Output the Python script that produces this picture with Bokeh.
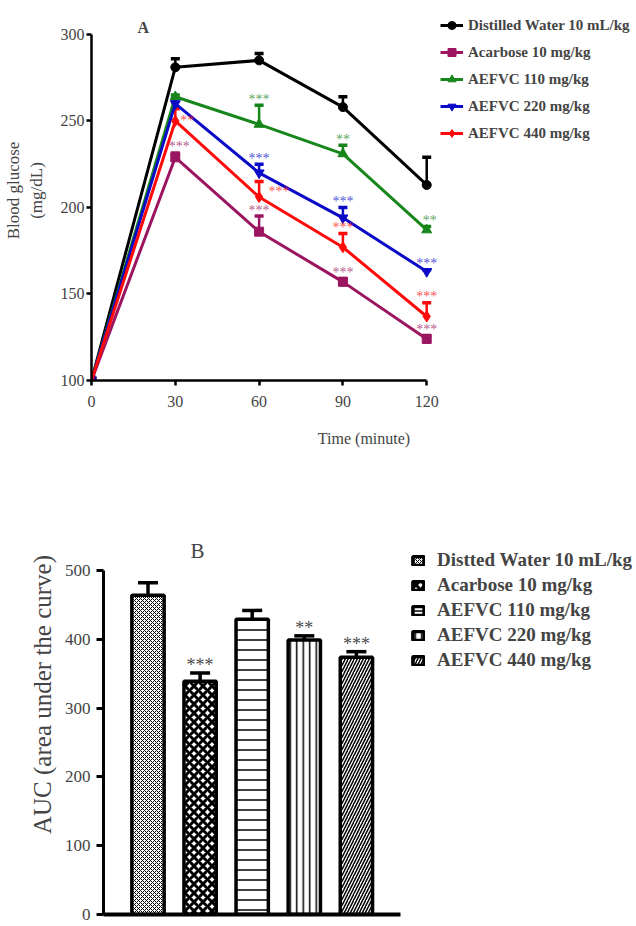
from bokeh.plotting import figure
from bokeh.layouts import column
from bokeh.models import (ColumnDataSource, Whisker, TeeHead, Legend, LegendItem,
                          LabelSet, Label, FixedTicker)
from bokeh.embed import file_html
from bokeh.resources import INLINE

# ---------------- data: panel A ----------------
times = [0, 30, 60, 90, 120]
series_keys = ["dw", "acarb", "a110", "a220", "a440"]
series_names = ["Distilled Water 10 mL/kg", "Acarbose 10 mg/kg", "AEFVC 110 mg/kg",
                "AEFVC 220 mg/kg", "AEFVC 440 mg/kg"]
dw_mean = [100, 281, 285, 258, 213]
dw_err = [0, 5, 4, 6, 16]
acarb_mean = [100, 229, 186, 157, 124]
acarb_err = [0, 2.5, 9, 2, 2]
a110_mean = [100, 264, 248, 231, 187]
a110_err = [0, 1, 11, 5, 2]
a220_mean = [100, 260, 220, 194, 163]
a220_err = [0, 3, 5, 6, 1]
a440_mean = [100, 250, 206, 177, 137]
a440_err = [0, 7, 9, 8, 8]
y_ticks_a = [100, 150, 200, 250, 300]

star_series = ["a110", "a110", "a110", "a220", "a220", "a220",
               "a440", "a440", "a440", "a440", "acarb", "acarb", "acarb", "acarb"]
star_times = [60, 90, 120, 60, 90, 120, 30, 60, 90, 120, 30, 60, 90, 120]
star_text = ["***", "**", "**", "***", "***", "***",
             "**", "***", "***", "***", "***", "***", "***", "***"]

# ---------------- data: panel B ----------------
groups = ["Distted Water 10 mL/kg", "Acarbose 10 mg/kg", "AEFVC 110 mg/kg",
          "AEFVC 220 mg/kg", "AEFVC 440 mg/kg"]
auc = [464, 339, 429, 399, 374]
auc_err = [18, 12, 13, 6, 8]
auc_stars = ["", "***", "", "**", "***"]
y_ticks_b = [0, 100, 200, 300, 400, 500]

# ---------------- styles ----------------
SERIF = "Liberation Serif"
colors = {"dw": "#000000", "acarb": "#9b1560", "a110": "#17861b", "a220": "#0a0ac8", "a440": "#ff0a0a"}
markers = {"dw": "circle", "acarb": "square", "a110": "triangle", "a220": "inverted_triangle", "a440": "diamond"}
msize = {"dw": 9, "acarb": 9, "a110": 10, "a220": 10, "a440": 11}
means = {"dw": dw_mean, "acarb": acarb_mean, "a110": a110_mean, "a220": a220_mean, "a440": a440_mean}
errs = {"dw": dw_err, "acarb": acarb_err, "a110": a110_err, "a220": a220_err, "a440": a440_err}
draw_order = ["dw", "acarb", "a110", "a220", "a440"]
star_dx = [0, 0, 3, 0, 0, 0, 12, 20, 0, 0, 4, 0, 0, 0]
star_dy = [6, 6, 6, 6, 6, 6, -12, -10, 6, 6, 6, 6, 6, 6]

# ================= Panel A =================
p1 = figure(width=636, height=474, x_range=(0, 195.1), y_range=(100, 319.6),
            output_backend="svg", toolbar_location=None, frame_align=False,
            min_border_left=88, min_border_right=0, min_border_top=0, min_border_bottom=94)
p1.outline_line_color = None
p1.grid.grid_line_color = None
for ax in (p1.xaxis[0], p1.yaxis[0]):
    ax.axis_line_width = 2.5
    ax.major_tick_line_width = 2.5
    ax.major_tick_out = 5
    ax.major_tick_in = 0
    ax.minor_tick_line_color = None
    ax.major_label_text_font = SERIF
    ax.major_label_text_font_size = "16px"
    ax.axis_label_text_font = SERIF
    ax.axis_label_text_font_style = "normal"
p1.xaxis.ticker = FixedTicker(ticks=times)
p1.yaxis.ticker = FixedTicker(ticks=y_ticks_a)
p1.xaxis.bounds = (0, 120)
p1.yaxis.bounds = (100, 300)
p1.xaxis.axis_label = "Time (minute)"
p1.yaxis.axis_label = "Blood glucose\n(mg/dL)"
p1.xaxis.axis_label_text_font_size = "16px"
p1.yaxis.axis_label_text_font_size = "17px"
p1.xaxis.major_label_standoff = 10
p1.xaxis.axis_label_standoff = 20
p1.yaxis.major_label_standoff = 2
p1.yaxis.axis_label_standoff = 12

legend_items = {}
for k in draw_order:
    c = colors[k]
    lr = p1.line(times, means[k], line_color=c, line_width=3)
    sr = p1.scatter(times, means[k], marker=markers[k], size=msize[k], fill_color=c, line_color=c)
    xs = [t for t, e in zip(times, errs[k]) if e > 0]
    lo = [m for m, e in zip(means[k], errs[k]) if e > 0]
    up = [m + e for m, e in zip(means[k], errs[k]) if e > 0]
    src = ColumnDataSource(dict(base=xs, lower=lo, upper=up))
    w = Whisker(source=src, base="base", lower="lower", upper="upper", dimension="height",
                line_color=c, line_width=2.5, lower_head=None,
                upper_head=TeeHead(size=9, line_color=c, line_width=3.5))
    p1.add_layout(w)
    legend_items[k] = [lr, sr]

items = [LegendItem(label=n, renderers=legend_items[k]) for k, n in zip(series_keys, series_names)]
leg1 = Legend(items=items, location=(349, 237), padding=0, margin=0, spacing=7,
              glyph_width=23, glyph_height=20, label_height=20, label_standoff=5,
              label_text_font=SERIF, label_text_font_style="bold", label_text_font_size="15px",
              border_line_color=None, background_fill_alpha=0)
p1.add_layout(leg1)

sx, sy, sc = [], [], []
for s, t in zip(star_series, star_times):
    i = times.index(t)
    sx.append(t)
    sy.append(means[s][i] + errs[s][i])
    sc.append(colors[s])
star_src = ColumnDataSource(dict(x=sx, y=sy, text=star_text, color=sc, dx=star_dx, dy=star_dy))
p1.add_layout(LabelSet(source=star_src, x="x", y="y", text="text", text_color="color",
                       text_alpha=0.75, x_offset="dx", y_offset="dy", text_align="center",
                       text_baseline="middle", text_font=SERIF, text_font_size="14px"))
p1.add_layout(Label(x=18.5, y=304, text="A", text_font=SERIF, text_font_style="bold",
                    text_font_size="16px", text_align="center", text_baseline="middle"))

# ================= Panel B =================
xpos = [i + 1 for i in range(len(groups))]
p2 = figure(width=636, height=452, x_range=(0.146, 10.376), y_range=(0, 639.5),
            output_backend="svg", toolbar_location=None, frame_align=False,
            min_border_left=103, min_border_right=0, min_border_top=0, min_border_bottom=12)
p2.outline_line_color = None
p2.grid.grid_line_color = None
ax2 = p2.xaxis[0]
ax2.bounds = (0.146, 5.846)
ax2.ticker = FixedTicker(ticks=[])
ax2.axis_line_width = 4
ax2.major_tick_line_color = None
ax2.minor_tick_line_color = None
ax2.major_label_standoff = 0
ax2.axis_label_standoff = 0
ay = p2.yaxis[0]
ay.ticker = FixedTicker(ticks=y_ticks_b)
ay.bounds = (0, 500)
ay.axis_line_width = 3
ay.major_tick_line_width = 3
ay.major_tick_out = 7
ay.major_tick_in = 0
ay.minor_tick_line_color = None
ay.major_label_text_font = SERIF
ay.major_label_text_font_size = "17px"
ay.major_label_standoff = 6
ay.axis_label = "AUC (area under the curve)"
ay.axis_label_text_font = SERIF
ay.axis_label_text_font_style = "normal"
ay.axis_label_text_font_size = "25px"
ay.axis_label_standoff = 6

hatches = [("diagonal_cross", 4, 1.0), ("diagonal_cross", 9, 3.0), ("horizontal_line", 10, 1.5),
           ("vertical_line", 6.5, 1.5), ("right_diagonal_line", 6, 1.5)]
bar_items = []
for i, g in enumerate(groups):
    hp, hs, hw = hatches[i]
    r = p2.vbar(x=[xpos[i]], top=[auc[i]], width=0.62, fill_color="white", line_color="black",
                line_width=3.5, hatch_pattern=hp, hatch_scale=hs, hatch_weight=hw, hatch_color="black")
    bar_items.append(LegendItem(label=g, renderers=[r]))

esrc = ColumnDataSource(dict(base=xpos, lower=auc, upper=[a + e for a, e in zip(auc, auc_err)]))
p2.add_layout(Whisker(source=esrc, base="base", lower="lower", upper="upper", dimension="height",
                      line_color="black", line_width=3.5, lower_head=None,
                      upper_head=TeeHead(size=20, line_color="black", line_width=3.5)))
ssrc = ColumnDataSource(dict(x=xpos, y=[a + e for a, e in zip(auc, auc_err)], text=auc_stars))
p2.add_layout(LabelSet(source=ssrc, x="x", y="y", text="text", text_color="#4a4a4a",
                       y_offset=8, text_align="center", text_baseline="middle",
                       text_font=SERIF, text_font_size="18px"))
p2.add_layout(Label(x=1.95, y=529, text="B", text_font=SERIF, text_font_size="21px",
                    text_align="center", text_baseline="middle"))

leg2 = Legend(items=bar_items, location=(308, 243), padding=0, margin=0, spacing=3,
              glyph_width=14, glyph_height=11, label_height=20, label_standoff=12,
              label_text_font=SERIF, label_text_font_style="bold", label_text_font_size="19px",
              border_line_color=None, background_fill_alpha=0)
p2.add_layout(leg2)

layout = column(p1, p2, spacing=0)
open("out.html", "w").write(file_html(layout, INLINE))
